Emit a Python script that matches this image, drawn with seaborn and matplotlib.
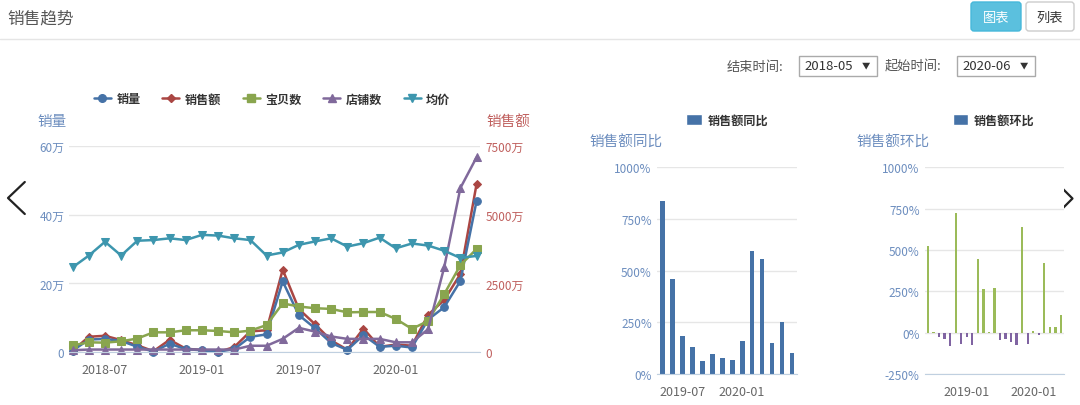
import numpy as np
import pandas as pd
import seaborn as sns
import matplotlib.pyplot as plt
from matplotlib.lines import Line2D
from matplotlib.patches import Patch, Rectangle, FancyBboxPatch

sns.set_style("white")
plt.rcParams["font.family"] = ["Noto Sans CJK SC", "DejaVu Sans"]
plt.rcParams["axes.unicode_minus"] = False

# --- data: 2018-05 .. 2020-06
months = [str(p) for p in pd.period_range("2018-05", "2020-06", freq="M")]

# 销量 (万)
vol = [0.5, 3.7, 3.9, 3.3, 1.6, 0.2, 2.5, 0.9, 0.6, 0.2, 0.9, 4.5, 5.2,
       20.6, 10.8, 7.0, 2.7, 0.7, 5.0, 1.6, 1.9, 1.4, 9.5, 13.1, 20.7, 43.9]
# 销售额 (万)
amt = [60, 565, 600, 440, 255, 40, 455, 130, 85, 10, 190, 760, 800,
       3000, 1570, 1020, 430, 95, 860, 200, 280, 240, 1360, 1900, 2840, 6100]
# 宝贝数
items = [2.0, 2.9, 2.8, 3.2, 4.0, 5.8, 5.8, 6.4, 6.4, 6.2, 5.8, 6.3, 7.9,
         14.2, 13.3, 12.8, 12.6, 11.6, 11.7, 11.7, 9.7, 6.8, 9.1, 16.9, 25.3, 30.0]
# 店铺数
shops = [0.6, 0.8, 0.8, 0.8, 0.8, 0.8, 0.8, 0.8, 0.8, 0.8, 0.8, 1.9, 1.9,
         3.9, 7.1, 6.0, 4.6, 3.9, 3.9, 3.9, 2.9, 2.9, 6.7, 24.7, 47.7, 56.6]
# 均价
price = [24.7, 28.1, 32.1, 28.1, 32.4, 32.6, 33.1, 32.6, 34.1, 33.9, 33.1, 32.6, 28.1,
         29.0, 31.2, 32.2, 33.1, 30.7, 31.7, 33.3, 30.2, 31.6, 31.0, 29.5, 27.4, 28.0]

# 销售额同比 (%), 2019-05 .. 2020-06
yoy_months = months[12:]
yoy = [836, 460, 185, 129, 61, 95, 76, 69, 160, 594, 558, 150, 250, 100]

# 销售额环比 (%), 2018-06 .. 2020-06
mom_months = months[1:]
mom = [526, 4, -24, -37, -81, 721, -67, -24, -73, 444, 263, 1, 271,
       -45, -37, -57, -77, 640, -71, 10, -12, 422, 37, 37, 105]

C_BLUE, C_RED, C_GREEN, C_PURPLE, C_TEAL = "#4572A7", "#AA4643", "#89A54E", "#80699B", "#3D96AE"
LBL_BLUE, LBL_RED = "#6D8EBF", "#C0605E"
AXIS_C, GRID_C = "#C0D0E0", "#E6E6E6"

W, H = 1080, 406
fig = plt.figure(figsize=(W / 100, H / 100), dpi=100)


def rect(l, t, r, b):
    return [l / W, 1 - b / H, (r - l) / W, (b - t) / H]


# background layer in pixel coordinates
bg = fig.add_axes([0, 0, 1, 1], zorder=-5)
bg.set_xlim(0, W)
bg.set_ylim(H, 0)
bg.axis("off")

bg.text(7, 19, "销售趋势", fontsize=12, color="#555555", va="center")
bg.plot([0, W], [39.5, 39.5], color="#E5E5E5", lw=1)
bg.add_patch(FancyBboxPatch((971, 3), 50, 29, boxstyle="round,pad=0,rounding_size=3",
                            fc="#5BC0DE", ec="#46B8DA", lw=1))
bg.text(996, 18, "图表", fontsize=9.5, color="white", ha="center", va="center")
bg.add_patch(FancyBboxPatch((1026, 3), 48, 29, boxstyle="round,pad=0,rounding_size=3",
                            fc="white", ec="#CCCCCC", lw=1))
bg.text(1050, 18, "列表", fontsize=9.5, color="#333333", ha="center", va="center")

bg.text(727, 67, "结束时间:", fontsize=9.5, color="#555555", va="center")
bg.add_patch(Rectangle((799, 57), 77.5, 20, fc="white", ec="#AAAAAA", lw=1))
bg.text(804, 67, "2018-05", fontsize=9.5, color="#333333", va="center")
bg.text(866, 66, "▼", fontsize=6, color="#333333", ha="center", va="center")
bg.text(885, 67, "起始时间:", fontsize=9.5, color="#555555", va="center")
bg.add_patch(Rectangle((957, 57), 77.5, 20, fc="white", ec="#AAAAAA", lw=1))
bg.text(962, 67, "2020-06", fontsize=9.5, color="#333333", va="center")
bg.text(1024, 66, "▼", fontsize=6, color="#333333", ha="center", va="center")

# nav chevrons
bg.plot([24.8, 8, 24.8], [183, 199, 215], color="#222222", lw=1.6)
bg.plot([1057, 1072.5, 1057], [184, 199.5, 215], color="#222222", lw=1.6)

# axis titles
bg.text(37, 122, "销量", fontsize=10.5, color=LBL_BLUE, va="center")
bg.text(486, 122, "销售额", fontsize=10.5, color=LBL_RED, va="center")
bg.text(589, 143, "销售额同比", fontsize=10.5, color=LBL_BLUE, va="center")
bg.text(856, 143, "销售额环比", fontsize=10.5, color=LBL_BLUE, va="center")

# --- main line chart
ax = fig.add_axes(rect(68.9, 146.7, 480.4, 353.3))
ax2 = ax.twinx()
ax.set_zorder(ax2.get_zorder() + 1)
ax.patch.set_visible(False)

df = pd.DataFrame({"idx": np.arange(len(months)), "销量": vol, "销售额": amt,
                   "宝贝数": items, "店铺数": shops, "均价": price})

styles = {
    "销量": (C_BLUE, "o", 5.5),
    "销售额": (C_RED, "D", 4.2),
    "宝贝数": (C_GREEN, "s", 5.5),
    "店铺数": (C_PURPLE, "^", 6),
    "均价": (C_TEAL, "v", 6),
}
for name in ["销售额", "销量", "宝贝数", "店铺数", "均价"]:
    c, m, ms = styles[name]
    sns.lineplot(data=df, x="idx", y=name, ax=ax2 if name == "销售额" else ax,
                 color=c, marker=m, markersize=ms, markeredgecolor=c,
                 linewidth=1.8, legend=False, clip_on=False)

ax.set_xlim(-0.235, 25.24)
ax.set_ylim(0, 60)
ax2.set_ylim(0, 7500)
ax.set_yticks([0, 20, 40, 60])
ax.set_yticklabels(["0", "20万", "40万", "60万"])
ax2.set_yticks([0, 2500, 5000, 7500])
ax2.set_yticklabels(["0", "2500万", "5000万", "7500万"])
tick_idx = [2, 8, 14, 20]
ax.set_xticks(tick_idx)
ax.set_xticklabels([months[i] for i in tick_idx])
ax.set_xlabel("")
ax.set_ylabel("")
ax2.set_ylabel("")
ax2.grid(axis="y", color=GRID_C, lw=1)
ax.grid(False)
for s in ax.spines.values():
    s.set_visible(False)
for s in ax2.spines.values():
    s.set_visible(False)
ax.spines["bottom"].set_visible(True)
ax.spines["bottom"].set_color(AXIS_C)
ax.tick_params(axis="y", length=0, pad=3.2, labelsize=8.5, labelcolor=LBL_BLUE)
ax2.tick_params(axis="y", length=0, pad=3.7, labelsize=8.5, labelcolor=LBL_RED)
ax.tick_params(axis="x", length=3.6, width=0.8, color=AXIS_C, pad=4,
               labelsize=9, labelcolor="#666666")

names = ["销量", "销售额", "宝贝数", "店铺数", "均价"]
handles = [Line2D([0], [0], color=styles[n][0], marker=styles[n][1],
                  markersize=styles[n][2], lw=1.8) for n in names]
leg_font = {"size": 8.7, "weight": "bold"}
leg = fig.legend(handles, names,
                 loc="center left", bbox_to_anchor=(94 / W, 1 - 100 / H), ncol=5,
                 frameon=False, handlelength=1.4, handletextpad=0.45,
                 columnspacing=1.8, borderpad=0, borderaxespad=0, prop=leg_font)
for t in leg.get_texts():
    t.set_color("#333333")


# --- bar charts
def style_bar_axis(axb):
    axb.set_xlabel("")
    axb.set_ylabel("")
    for s in axb.spines.values():
        s.set_visible(False)
    axb.spines["bottom"].set_visible(True)
    axb.spines["bottom"].set_color(AXIS_C)
    axb.grid(axis="y", color=GRID_C, lw=1)
    axb.set_axisbelow(True)
    axb.tick_params(axis="y", length=0, pad=4, labelsize=8.5, labelcolor=LBL_BLUE)
    axb.tick_params(axis="x", length=3.6, width=0.8, color=AXIS_C, pad=4,
                    labelsize=9, labelcolor="#666666")


axb1 = fig.add_axes(rect(657.3, 168.3, 797, 375))
sns.barplot(x=yoy_months, y=yoy, ax=axb1, color=C_BLUE, saturation=1,
            width=0.48, linewidth=0)
axb1.set_xlim(-0.5, len(yoy_months) - 0.5)
axb1.set_ylim(0, 1000)
axb1.set_yticks([0, 250, 500, 750, 1000])
axb1.set_yticklabels([f"{v}%" for v in [0, 250, 500, 750, 1000]])
axb1.set_xticks([2, 8])
axb1.set_xticklabels([yoy_months[2], yoy_months[8]])
style_bar_axis(axb1)

axb2 = fig.add_axes(rect(925.2, 168.3, 1063.7, 375))
sign = ["up" if v >= 0 else "down" for v in mom]
sns.barplot(x=mom_months, y=mom, hue=sign, palette={"up": "#9BBB59", "down": "#8064A2"},
            dodge=False, legend=False, ax=axb2, saturation=1, width=0.42, linewidth=0)
axb2.set_xlim(-0.5, len(mom_months) - 0.5)
axb2.set_ylim(-250, 1000)
axb2.set_yticks([-250, 0, 250, 500, 750, 1000])
axb2.set_yticklabels([f"{v}%" for v in [-250, 0, 250, 500, 750, 1000]])
axb2.set_xticks([7, 19])
axb2.set_xticklabels([mom_months[7], mom_months[19]])
style_bar_axis(axb2)

for lx, label in [(686.4, "销售额同比"), (952.6, "销售额环比")]:
    lg = fig.legend([Patch(fc=C_BLUE)], [label], loc="center left",
                    bbox_to_anchor=(lx / W, 1 - 121 / H), frameon=False,
                    handlelength=1.28, handleheight=0.97, handletextpad=0.48,
                    borderpad=0, borderaxespad=0, prop=leg_font)
    for t in lg.get_texts():
        t.set_color("#333333")

fig.savefig("out.png", dpi=100)
